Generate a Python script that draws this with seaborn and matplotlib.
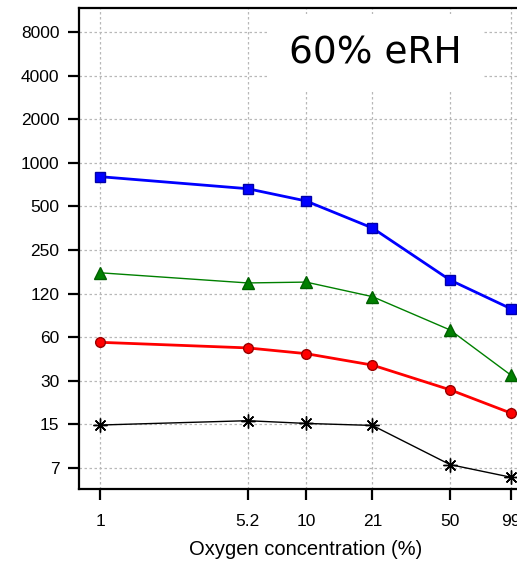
import numpy as np
import pandas as pd
import matplotlib
matplotlib.use("Agg")
import matplotlib.pyplot as plt
import seaborn as sns

# data
oxygen = [1, 5.2, 10, 21, 50, 99]
blue_sq = [804, 664, 546, 355, 155, 98]
green_tri = [174, 148, 150, 119, 70, 34]
red_circ = [57.5, 52.6, 48, 40, 27, 18.6]
black_star = [15.4, 16.5, 15.8, 15.3, 8.2, 6.7]

y_tick_labels = ["7", "15", "30", "60", "120", "250", "500", "1000", "2000", "4000", "8000"]
x_tick_labels = ["1", "5.2", "10", "21", "50", "99"]

df = pd.DataFrame({
    "oxygen": oxygen * 4,
    "value": blue_sq + green_tri + red_circ + black_star,
    "series": ["blue"] * 6 + ["green"] * 6 + ["red"] * 6 + ["black"] * 6,
})

sns.set_theme(style="white")
plt.rcParams["font.family"] = ["Liberation Sans", "DejaVu Sans"]
plt.rcParams["text.color"] = "black"
plt.rcParams["axes.labelcolor"] = "black"

fig = plt.figure(figsize=(5.17, 5.62), dpi=100)
ax = fig.add_axes([79 / 517, 73 / 562, 453 / 517, 481 / 562])

styles = {
    "blue": dict(color="#0000ff", lw=2.0, marker="s", ms=7, mec="#0000aa"),
    "green": dict(color="#008000", lw=1.0, marker="^", ms=8, mec="#006000"),
    "red": dict(color="#ff0000", lw=2.0, marker="o", ms=7, mec="#990000"),
    "black": dict(color="black", lw=1.0, marker=(8, 2, 0), ms=10, mec="black"),
}

for name, st in styles.items():
    sub = df[df["series"] == name]
    sns.lineplot(data=sub, x="oxygen", y="value", ax=ax, color=st["color"],
                 linewidth=st["lw"], marker=st["marker"], markersize=st["ms"],
                 markeredgecolor=st["mec"], markeredgewidth=1.0, legend=False,
                 zorder=3)

ax.set_xscale("log")
ax.set_yscale("log", base=2)
ax.set_xlim(0.79, 125)
ax.set_ylim(5.56, 11800)

y_ticks = [1000 * 2.0 ** k for k in range(-7, 4)]
ax.set_yticks(y_ticks)
ax.set_yticklabels(y_tick_labels)
ax.set_xticks(oxygen)
ax.set_xticklabels(x_tick_labels)
ax.minorticks_off()

ax.grid(True, which="major", color="#b8b8b8", linestyle=(0, (2, 2)), linewidth=0.9)
ax.set_axisbelow(True)

for s in ax.spines.values():
    s.set_linewidth(1.6)
    s.set_color("black")

ax.tick_params(axis="y", direction="out", length=8, width=1.6, pad=6,
               labelsize=12.5, colors="black", left=True)
ax.tick_params(axis="x", direction="out", length=8, width=1.6, pad=10,
               labelsize=12.5, colors="black", bottom=True)

ax.set_xlabel("Oxygen concentration (%)", fontsize=14.5, labelpad=8, color="black")
ax.set_ylabel("")

ax.text(375 / 517, 1 - 53 / 562, "60% eRH", transform=fig.transFigure,
        fontsize=27, family="DejaVu Sans", color="black", ha="center",
        va="center", zorder=5,
        bbox=dict(boxstyle="square,pad=0.55", facecolor="white", edgecolor="none"))

fig.savefig("out.png", dpi=100)
